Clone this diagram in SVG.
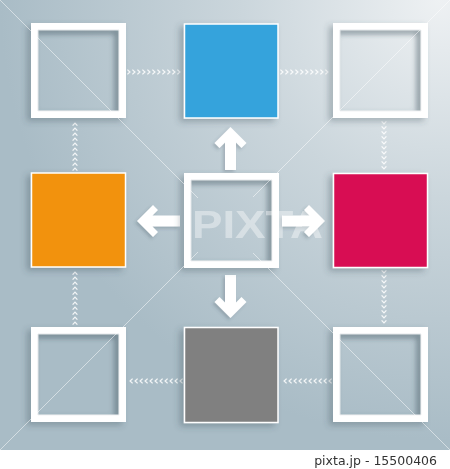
<svg xmlns="http://www.w3.org/2000/svg" xmlns:xlink="http://www.w3.org/1999/xlink" width="450" height="469" viewBox="0 0 450 469">
<defs>
<style>
.frame{fill:#ffffff;fill-rule:evenodd}
.conn{fill:none;stroke:none;marker-start:url(#chev);marker-mid:url(#chev);marker-end:url(#chev)}
.tile{stroke:#ffffff;stroke-width:1.5}
.arrow{fill:#ffffff}
.wm{stroke:#ffffff;stroke-width:0.9;opacity:0.55}
</style>
<radialGradient id="bg" gradientUnits="userSpaceOnUse" cx="440" cy="0" r="440">
<stop offset="0" stop-color="#eef1f3"/>
<stop offset="0.45" stop-color="#cbd6dc"/>
<stop offset="1" stop-color="#a9bcc6"/>
</radialGradient>
<filter id="shadow" x="-30%" y="-30%" width="160%" height="160%">
<feDropShadow dx="-4" dy="3" stdDeviation="3" flood-color="#3c4f5a" flood-opacity="0.35"/>
</filter>
<filter id="ashadow" x="-40%" y="-40%" width="180%" height="180%">
<feDropShadow dx="-2" dy="2" stdDeviation="1.5" flood-color="#3c4f5a" flood-opacity="0.25"/>
</filter>
<filter id="blur3"><feGaussianBlur stdDeviation="2.5"/></filter>
<clipPath id="opening"><rect x="7" y="7" width="81" height="81"/></clipPath>
<marker id="chev" markerUnits="userSpaceOnUse" markerWidth="8" markerHeight="8" viewBox="-4 -4 8 8" refX="0" refY="0" orient="auto">
<path d="M-1.6,-2.4 L0.9,0 L-1.6,2.4" fill="none" stroke="#ffffff" stroke-width="1.3" opacity="0.85"/>
</marker>
<g id="frameShape">
<path class="frame" filter="url(#shadow)" d="M0,0 H95 V95 H0 Z M7,7 V88 H88 V7 Z"/>
<g clip-path="url(#opening)">
<path d="M5,9 H86 V90" fill="none" stroke="#4a5d68" stroke-width="4" opacity="0.35" filter="url(#blur3)"/>
</g>
<path d="M7,88 V7 H88" fill="none" stroke="#e4e7ea" stroke-width="1"/>
<path d="M7,88 H88 V7" fill="none" stroke="#f1f2f3" stroke-width="1"/>
</g>
<polygon id="arrowUp" points="0,0 16,16 11,21 5.5,15.5 5.5,43 -5.5,43 -5.5,15.5 -11,21 -16,16"/>
</defs>

<rect x="0" y="0" width="450" height="450" fill="url(#bg)"/>
<rect x="0" y="450" width="450" height="19" fill="#ffffff"/>

<g id="connectors">
<polyline class="conn" points="129,72 134,72 139,72 144,72 149,72 154,72 159,72 164,72 169,72 174,72 179,72"/>
<polyline class="conn" points="282,72 287,72 292,72 297,72 302,72 307,72 312,72 317,72 322,72 327,72"/>
<polyline class="conn" points="384,123 384,128 384,133 384,138 384,143 384,148 384,153 384,158 384,163 384,168"/>
<polyline class="conn" points="384,272 384,277 384,282 384,287 384,292 384,297 384,302 384,307 384,312 384,317 384,322"/>
<polyline class="conn" points="330,381 325,381 320,381 315,381 310,381 305,381 300,381 295,381 290,381 285,381"/>
<polyline class="conn" points="181,381 176,381 171,381 166,381 161,381 156,381 151,381 146,381 141,381 136,381 131,381"/>
<polyline class="conn" points="75,323 75,318 75,313 75,308 75,303 75,298 75,293 75,288 75,283 75,278 75,273"/>
<polyline class="conn" points="75,169 75,164 75,159 75,154 75,149 75,144 75,139 75,134 75,129 75,124"/>
<g class="arrow" filter="url(#ashadow)">
<use xlink:href="#arrowUp" href="#arrowUp" transform="translate(230.5,127)"/>
<use xlink:href="#arrowUp" href="#arrowUp" transform="translate(230.5,318) rotate(180)"/>
<use xlink:href="#arrowUp" href="#arrowUp" transform="translate(137,221) rotate(-90)"/>
<use xlink:href="#arrowUp" href="#arrowUp" transform="translate(325,221) rotate(90)"/>
</g>
</g>

<g id="node-tl"><use xlink:href="#frameShape" href="#frameShape" transform="translate(31,23)"/></g>
<g id="node-blue"><rect class="tile" x="184.5" y="24" width="93.5" height="94" fill="#36a3dc" filter="url(#shadow)"/></g>
<g id="node-tr"><use xlink:href="#frameShape" href="#frameShape" transform="translate(333,23)"/></g>
<g id="node-orange"><rect class="tile" x="31.5" y="173" width="94" height="94" fill="#f2920a" filter="url(#shadow)"/></g>
<g id="node-center"><use xlink:href="#frameShape" href="#frameShape" transform="translate(184,173)"/></g>
<g id="node-red"><rect class="tile" x="333.5" y="173.5" width="94" height="94" fill="#d80f52" filter="url(#shadow)"/></g>
<g id="node-bl"><use xlink:href="#frameShape" href="#frameShape" transform="translate(31,327)"/></g>
<g id="node-gray"><rect class="tile" x="184.5" y="327.5" width="93.5" height="95" fill="#808080" filter="url(#shadow)"/></g>
<g id="node-br"><use xlink:href="#frameShape" href="#frameShape" transform="translate(333,327)"/></g>

<g id="watermark">
<line class="wm" x1="0" y1="0" x2="198" y2="198"/>
<line class="wm" x1="253" y1="253" x2="450" y2="450"/>
<line class="wm" x1="450" y1="0" x2="253" y2="197"/>
<line class="wm" x1="198" y1="252" x2="0" y2="450"/>
<text x="192" y="238" font-family="'Liberation Sans', Arial, sans-serif" font-weight="bold" font-size="39" fill="#ffffff" opacity="0.4" textLength="131" lengthAdjust="spacingAndGlyphs">PIXTA</text>
</g>

<text x="437" y="465" text-anchor="end" font-family="'DejaVu Sans', Verdana, sans-serif" font-size="12.5" fill="#333333">pixta.jp - 15500406</text>
</svg>
